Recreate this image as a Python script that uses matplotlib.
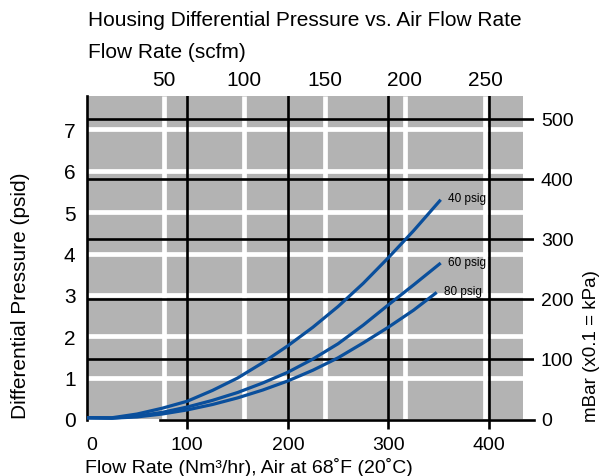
import matplotlib
matplotlib.use("Agg")
import matplotlib.pyplot as plt
import matplotlib.transforms as mtransforms
import numpy as np

plt.rcParams['font.family'] = ['Liberation Sans', 'DejaVu Sans']

# ---- data ----
flow_40 = [0, 25, 50, 75, 100, 125, 150, 175, 200, 225, 250, 275, 300, 325, 352]
dp_40 = [0.03, 0.03, 0.12, 0.26, 0.43, 0.69, 0.99, 1.36, 1.77, 2.22, 2.72, 3.28,
         3.90, 4.55, 5.30]
flow_60 = [0, 25, 50, 75, 100, 125, 150, 175, 200, 225, 250, 275, 300, 325, 352]
dp_60 = [0.03, 0.02, 0.07, 0.16, 0.29, 0.45, 0.64, 0.87, 1.13, 1.45, 1.82, 2.27,
         2.76, 3.24, 3.77]
flow_80 = [0, 25, 50, 75, 100, 125, 150, 175, 200, 225, 250, 275, 300, 325, 348]
dp_80 = [0.03, 0.02, 0.05, 0.12, 0.22, 0.35, 0.51, 0.70, 0.92, 1.18, 1.48, 1.84,
         2.22, 2.63, 3.06]
series_labels = ['40 psig', '60 psig', '80 psig']

psi_ticks = [0, 1, 2, 3, 4, 5, 6, 7]
mbar_ticks = [0, 100, 200, 300, 400, 500]
nm3_ticks = [0, 100, 200, 300, 400]
scfm_ticks = [50, 100, 150, 200, 250]

MBAR_PER_PSI = 68.948
NM3_PER_SCFM = 1.596
SCFM_ZERO_NM3 = -2.9   # where 0 scfm sits on the Nm3/hr scale in the chart

title = 'Housing Differential Pressure vs. Air Flow Rate'
top_label = 'Flow Rate (scfm)'
left_label = 'Differential Pressure (psid)'
right_label = 'mBar (x0.1 = kPa)'
bottom_label = 'Flow Rate (Nm\u00b3/hr), Air at 68\u02daF (20\u02daC)'


def scfm_to_nm3(s):
    return np.asarray(s) * NM3_PER_SCFM + SCFM_ZERO_NM3


def nm3_to_scfm(n):
    return (np.asarray(n) - SCFM_ZERO_NM3) / NM3_PER_SCFM


# ---- figure ----
W, H = 600, 477
fig = plt.figure(figsize=(W / 100, H / 100), dpi=100)
x0_px, x_scale = 86.7, 1.0057
y0_px, y_scale = 420.0, 41.37
ax = fig.add_axes([x0_px / W, 1 - 421 / H, (534 - x0_px) / W, (421 - 97) / H])

xmax = (534 - x0_px) / x_scale
ymin = (y0_px - 421) / y_scale
ymax = (y0_px - 97) / y_scale
ax.set_xlim(0, xmax)
ax.set_ylim(ymin, ymax)

grey_right = (523 - x0_px) / x_scale
ax.add_patch(plt.Rectangle((0, 0.01), grey_right, ymax - 0.01,
                           facecolor='#b3b3b3', edgecolor='none', zorder=0))

# white grid (psid and scfm)
for p in psi_ticks[1:]:
    ax.plot([0, grey_right], [p, p], color='white', lw=3.4, zorder=1,
            solid_capstyle='butt')
for s in scfm_ticks:
    xs = float(scfm_to_nm3(s))
    ax.plot([xs, xs], [0.01, ymax], color='white', lw=3.4,
            zorder=1, solid_capstyle='butt')

# black grid (mBar and Nm3/hr)
for m in mbar_ticks[1:]:
    ax.axhline(m / MBAR_PER_PSI, color='black', lw=1.9, zorder=2)
for n in nm3_ticks[1:]:
    ax.axvline(n, color='black', lw=1.9, zorder=2)

# curves
blue = '#0a4f9c'
for fx, fy, lab in [(flow_40, dp_40, series_labels[0]),
                    (flow_60, dp_60, series_labels[1]),
                    (flow_80, dp_80, series_labels[2])]:
    ax.plot(fx, fy, color=blue, lw=2.3, zorder=3, solid_capstyle='butt',
            solid_joinstyle='round')
    ax.text(fx[-1] + 7, fy[-1] + 0.03, lab, fontsize=8.5, va='center',
            ha='left', zorder=4)

# spines
for side in ['top', 'right']:
    ax.spines[side].set_visible(False)
ax.spines['left'].set_linewidth(1.9)
ax.spines['bottom'].set_linewidth(1.9)
ax.spines['bottom'].set_bounds(73, xmax)

# left axis
ax.set_yticks(psi_ticks)
ax.set_yticklabels([str(p) for p in psi_ticks], fontsize=15)
ax.tick_params(axis='y', length=0, pad=8)

# bottom axis
ax.set_xticks(nm3_ticks)
ax.set_xticklabels([str(n) for n in nm3_ticks], fontsize=14)
ax.tick_params(axis='x', length=6.5, width=1.9, pad=5)
ax.xaxis.get_major_ticks()[0].tick1line.set_visible(False)
first_lbl = ax.get_xticklabels()[0]
first_lbl.set_transform(first_lbl.get_transform() +
                        mtransforms.ScaledTranslation(5 / 100, 0,
                                                      fig.dpi_scale_trans))

# top axis (scfm)
top = ax.secondary_xaxis('top', functions=(nm3_to_scfm, scfm_to_nm3))
top.set_xticks(scfm_ticks)
top.set_xticklabels([str(s) for s in scfm_ticks], fontsize=15)
top.tick_params(length=0, pad=5)
top.spines['top'].set_visible(False)

# right axis (mBar)
right = ax.secondary_yaxis('right', functions=(lambda p: p * MBAR_PER_PSI,
                                               lambda m: m / MBAR_PER_PSI))
right.set_yticks(mbar_ticks)
right.set_yticklabels([str(m) for m in mbar_ticks], fontsize=14)
right.tick_params(length=0, pad=5)
right.spines['right'].set_visible(False)

# labels
fig.text(88 / W, 1 - 20 / H, title, fontsize=15, va='center', ha='left')
fig.text(88 / W, 1 - 52 / H, top_label, fontsize=15, va='center', ha='left')
fig.text(21 / W, 1 - 296 / H, left_label, fontsize=15, va='center',
         ha='center', rotation=90)
fig.text(592 / W, 1 - 346 / H, right_label, fontsize=13.5, va='center',
         ha='center', rotation=90)
fig.text(85 / W, 1 - 468 / H, bottom_label, fontsize=14, va='center',
         ha='left')

fig.savefig('out.png', dpi=100)
